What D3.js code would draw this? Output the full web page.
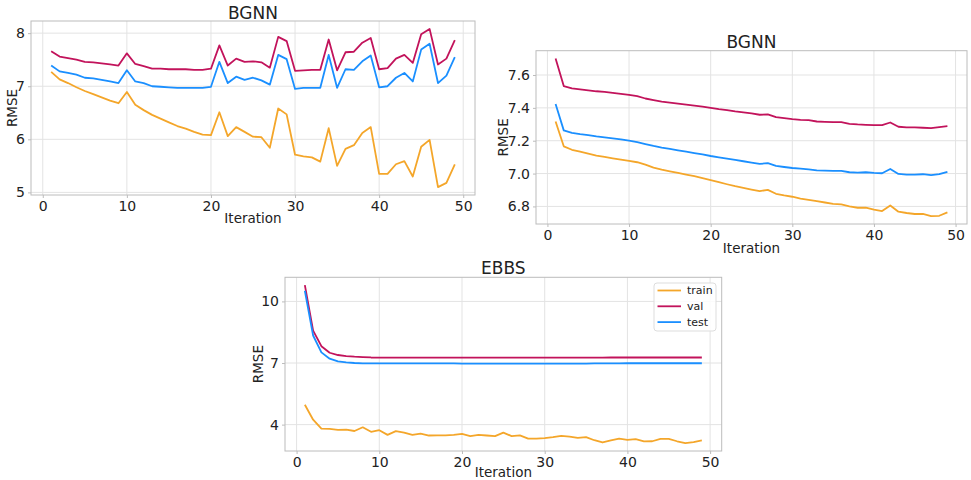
<!DOCTYPE html>
<html>
<head>
<meta charset="utf-8">
<script src="https://cdn.jsdelivr.net/npm/d3@7/dist/d3.min.js"></script>
<style>
  html, body { margin: 0; padding: 0; background: #fff; }
  svg { display: block; font-family: "DejaVu Sans", sans-serif; }
</style>
</head>
<body>
<svg id="chart" width="971" height="480"></svg>
<script>
// ---------- DATA ----------
const iterations = [1,2,3,4,5,6,7,8,9,10,11,12,13,14,15,16,17,18,19,20,21,22,23,24,25,26,27,28,29,30,31,32,33,34,35,36,37,38,39,40,41,42,43,44,45,46,47,48,49];

// Chart 1: BGNN (top-left)
const bgnn1Train = [7.27,7.13,7.06,6.98,6.91,6.85,6.79,6.73,6.68,6.89,6.65,6.55,6.46,6.39,6.32,6.25,6.20,6.14,6.09,6.08,6.51,6.06,6.23,6.14,6.05,6.04,5.84,6.58,6.47,5.71,5.68,5.66,5.58,6.21,5.50,5.82,5.89,6.12,6.23,5.35,5.35,5.53,5.59,5.30,5.86,5.99,5.10,5.18,5.53];
const bgnn1Val   = [7.66,7.56,7.53,7.50,7.46,7.45,7.43,7.41,7.39,7.62,7.42,7.38,7.33,7.33,7.32,7.32,7.32,7.31,7.31,7.33,7.77,7.39,7.52,7.46,7.47,7.45,7.35,7.93,7.85,7.29,7.30,7.31,7.31,7.88,7.30,7.64,7.65,7.82,7.91,7.32,7.34,7.52,7.59,7.44,7.98,8.08,7.41,7.52,7.87];
const bgnn1Test  = [7.39,7.28,7.25,7.22,7.16,7.15,7.12,7.09,7.06,7.30,7.09,7.06,7.00,6.99,6.98,6.97,6.97,6.97,6.97,6.99,7.46,7.06,7.18,7.12,7.16,7.11,7.03,7.59,7.51,6.95,6.97,6.97,6.97,7.59,6.97,7.32,7.31,7.47,7.58,6.98,7.00,7.16,7.25,7.09,7.69,7.80,7.06,7.20,7.55];
const bgnn1YTicks = [5, 6, 7, 8];

// Chart 2: BGNN (top-right)
const bgnn2Train = [7.317,7.166,7.145,7.133,7.121,7.109,7.101,7.093,7.085,7.077,7.069,7.055,7.036,7.024,7.014,7.004,6.994,6.984,6.972,6.960,6.948,6.935,6.923,6.913,6.903,6.893,6.901,6.877,6.867,6.859,6.848,6.840,6.832,6.824,6.816,6.812,6.800,6.792,6.792,6.780,6.772,6.806,6.768,6.760,6.754,6.754,6.741,6.743,6.764];
const bgnn2Val   = [7.700,7.533,7.519,7.513,7.507,7.501,7.497,7.491,7.485,7.479,7.471,7.457,7.447,7.438,7.432,7.426,7.420,7.414,7.408,7.400,7.392,7.386,7.378,7.372,7.366,7.358,7.360,7.343,7.337,7.331,7.327,7.325,7.317,7.315,7.313,7.313,7.303,7.299,7.297,7.295,7.295,7.311,7.285,7.281,7.281,7.279,7.277,7.283,7.289];
const bgnn2Test  = [7.424,7.263,7.248,7.240,7.234,7.226,7.220,7.214,7.208,7.200,7.192,7.180,7.168,7.158,7.150,7.141,7.133,7.125,7.117,7.107,7.099,7.091,7.083,7.075,7.067,7.059,7.063,7.047,7.040,7.034,7.030,7.026,7.020,7.018,7.016,7.016,7.008,7.006,7.008,7.004,7.002,7.028,6.998,6.994,6.994,6.996,6.990,6.996,7.010];
const bgnn2YTicks = [6.8, 7.0, 7.2, 7.4, 7.6];

// Chart 3: EBBS (bottom)
const ebbsTrain = [4.97,4.24,3.81,3.79,3.74,3.76,3.69,3.87,3.65,3.73,3.50,3.68,3.61,3.50,3.56,3.47,3.48,3.48,3.50,3.55,3.44,3.50,3.47,3.44,3.61,3.44,3.48,3.32,3.32,3.34,3.39,3.45,3.42,3.35,3.39,3.24,3.13,3.23,3.32,3.26,3.29,3.18,3.19,3.31,3.31,3.19,3.10,3.15,3.23];
const ebbsVal   = [10.79,8.58,7.82,7.50,7.39,7.34,7.31,7.29,7.27,7.26,7.26,7.26,7.26,7.26,7.26,7.26,7.26,7.26,7.26,7.26,7.26,7.26,7.26,7.26,7.26,7.26,7.26,7.26,7.26,7.26,7.26,7.26,7.26,7.26,7.26,7.26,7.26,7.27,7.27,7.27,7.27,7.27,7.27,7.27,7.27,7.27,7.27,7.27,7.27];
const ebbsTest  = [10.52,8.34,7.52,7.21,7.08,7.03,7.00,6.98,6.98,6.98,6.98,6.98,6.98,6.98,6.98,6.98,6.98,6.98,6.98,6.97,6.97,6.97,6.97,6.97,6.97,6.97,6.97,6.97,6.97,6.97,6.97,6.97,6.97,6.97,6.97,6.98,6.98,6.98,6.98,6.99,6.99,6.99,6.99,6.99,6.99,6.99,6.99,6.99,6.99];
const ebbsYTicks = [4, 7, 10];

const xTicks = [0, 10, 20, 30, 40, 50];
const seriesNames = ["train", "val", "test"];
const seriesColors = ["#f4a62a", "#c2135b", "#1a8fff"];

// ---------- DRAW ----------
const svg = d3.select("#chart");

function extentPad(arrays) {
  const all = [].concat(...arrays);
  const mn = d3.min(all), mx = d3.max(all);
  const pad = (mx - mn) * 0.05;
  return [mn - pad, mx + pad];
}

function drawChart(cfg) {
  const { left, right, top, bottom, title, series, yTicks, yFmt, titleY, xLabelY, yLabelX, legend } = cfg;
  const g = svg.append("g");

  const xMin = d3.min(iterations), xMax = d3.max(iterations);
  const xPad = (xMax - xMin) * 0.05;
  const x = d3.scaleLinear().domain([xMin - xPad, xMax + xPad]).range([left, right]);
  const y = d3.scaleLinear().domain(extentPad(series)).range([bottom, top]);

  // grid
  g.append("g").selectAll("line").data(xTicks).join("line")
    .attr("x1", d => x(d)).attr("x2", d => x(d))
    .attr("y1", top).attr("y2", bottom)
    .attr("stroke", "#e3e3e3").attr("stroke-width", 1);
  g.append("g").selectAll("line").data(yTicks).join("line")
    .attr("x1", left).attr("x2", right)
    .attr("y1", d => y(d)).attr("y2", d => y(d))
    .attr("stroke", "#e3e3e3").attr("stroke-width", 1);

  // lines
  const line = d3.line().x((d, i) => x(iterations[i])).y(d => y(d));
  series.forEach((s, k) => {
    g.append("path").datum(s)
      .attr("fill", "none")
      .attr("stroke", seriesColors[k])
      .attr("stroke-width", 1.8)
      .attr("stroke-linejoin", "round")
      .attr("d", line);
  });

  // spines
  g.append("rect").attr("x", left).attr("y", top)
    .attr("width", right - left).attr("height", bottom - top)
    .attr("fill", "none").attr("stroke", "#bcbcbc").attr("stroke-width", 1);

  // axes
  const xAxis = d3.axisBottom(x).tickValues(xTicks).tickSize(3).tickPadding(3).tickFormat(d3.format("d"));
  const gx = g.append("g").attr("transform", `translate(0,${bottom})`).call(xAxis);
  gx.select(".domain").remove();
  gx.selectAll(".tick line").attr("stroke", "#bcbcbc");
  gx.selectAll(".tick text").attr("fill", "#222").attr("font-size", 14).attr("font-family", "DejaVu Sans");

  const yAxis = d3.axisLeft(y).tickValues(yTicks).tickSize(3).tickPadding(3).tickFormat(yFmt);
  const gy = g.append("g").attr("transform", `translate(${left},0)`).call(yAxis);
  gy.select(".domain").remove();
  gy.selectAll(".tick line").attr("stroke", "#bcbcbc");
  gy.selectAll(".tick text").attr("fill", "#222").attr("font-size", 14).attr("font-family", "DejaVu Sans");

  // title
  g.append("text").attr("x", (left + right) / 2).attr("y", titleY)
    .attr("text-anchor", "middle").attr("font-size", 17).attr("fill", "#222").text(title);
  // x label
  g.append("text").attr("x", (left + right) / 2).attr("y", xLabelY)
    .attr("text-anchor", "middle").attr("font-size", 13.5).attr("fill", "#222").text("Iteration");
  // y label
  g.append("text")
    .attr("transform", `translate(${yLabelX},${(top + bottom) / 2}) rotate(-90)`)
    .attr("text-anchor", "middle").attr("dy", "0.35em").attr("font-size", 13.5).attr("fill", "#222").text("RMSE");

  if (legend) {
    const lg = g.append("g");
    lg.append("rect").attr("x", legend.x).attr("y", legend.y)
      .attr("width", legend.w).attr("height", legend.h)
      .attr("rx", 3).attr("fill", "#fff").attr("fill-opacity", 0.85)
      .attr("stroke", "#dddddd").attr("stroke-width", 1);
    seriesNames.forEach((name, k) => {
      const yy = legend.y + 7.5 + k * 15.8;
      lg.append("line").attr("x1", legend.x + 3.5).attr("x2", legend.x + 27)
        .attr("y1", yy).attr("y2", yy)
        .attr("stroke", seriesColors[k]).attr("stroke-width", 1.8);
      lg.append("text").attr("x", legend.x + 33).attr("y", yy).attr("dy", "0.35em")
        .attr("font-size", 11).attr("fill", "#222").text(name);
    });
  }
}

drawChart({
  left: 31, right: 475, top: 21, bottom: 195,
  title: "BGNN", series: [bgnn1Train, bgnn1Val, bgnn1Test],
  yTicks: bgnn1YTicks, yFmt: d3.format("d"),
  titleY: 19, xLabelY: 222.5, yLabelX: 12
});

drawChart({
  left: 536, right: 967, top: 50.7, bottom: 224,
  title: "BGNN", series: [bgnn2Train, bgnn2Val, bgnn2Test],
  yTicks: bgnn2YTicks, yFmt: d3.format(".1f"),
  titleY: 48.3, xLabelY: 252.5, yLabelX: 503
});

drawChart({
  left: 285, right: 721.7, top: 277.3, bottom: 451,
  title: "EBBS", series: [ebbsTrain, ebbsVal, ebbsTest],
  yTicks: ebbsYTicks, yFmt: d3.format("d"),
  titleY: 274, xLabelY: 476.5, yLabelX: 258,
  legend: { x: 654, y: 283, w: 62, h: 48 }
});
</script>
</body>
</html>
